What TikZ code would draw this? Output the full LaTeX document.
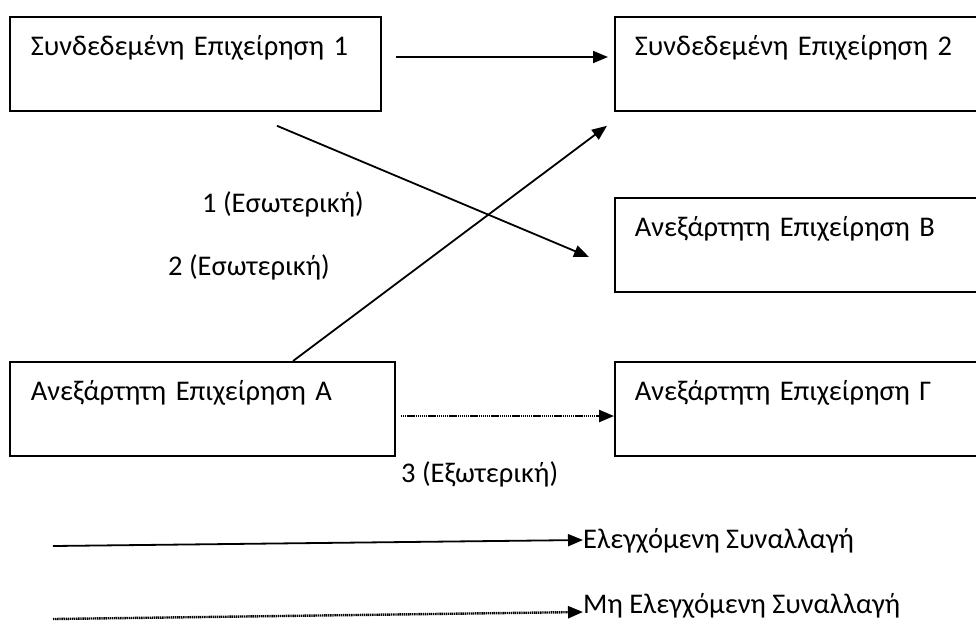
\documentclass[tikz,border=0pt]{standalone}
\usepackage{fontspec}
\setmainfont{Carlito}
\usetikzlibrary{calc,positioning,arrows.meta}

\begin{document}
\begin{tikzpicture}[x=1pt,y=-1pt,
    firm/.style={draw, line width=1.8pt, anchor=north west, align=left,
      inner xsep=20pt, inner ysep=14pt, text height=25pt, text depth=41pt},
    lbl/.style={inner sep=0pt, anchor=base west},
    ctrlarr/.style={line width=1.8pt, -{Triangle[length=15pt,width=12pt]}},
    unctrlarr/.style={line width=2.4pt, dash pattern=on 1.4pt off 0.7pt,
      -{Triangle[length=15pt,width=12pt]}},
    every node/.style={font=\fontsize{28.5}{32}\selectfont}]
    \pgfmathsetmacro{\lw}{329}
    \pgfmathsetmacro{\rw}{326}

    \useasboundingbox (0,0) rectangle (976,622);

    % the five firms
    \node[firm, text width=\lw pt, inner xsep=21pt] (syn1) at (9,16) {Συνδεδεμένη Επιχείρηση 1};
    \node[firm, text width=\rw pt] (syn2) at (614,16) {Συνδεδεμένη Επιχείρηση 2};
    \node[firm, text width=\rw pt] (anexB) at (614,197) {Ανεξάρτητη Επιχείρηση Β};
    \node[firm, text width=343pt, inner xsep=21pt] (anexA) at (9,361) {Ανεξάρτητη Επιχείρηση Α};
    \node[firm, text width=\rw pt] (anexG) at (614,361) {Ανεξάρτητη Επιχείρηση Γ};

    % transactions
    \draw[ctrlarr] ($(syn1.north east)+(14,41)$) -- ($(syn2.north west)+(-6,41)$);
    \draw[ctrlarr] ($(syn1.south west)+(268,14)$) -- ($(anexB.north west)+(-25,60)$);
    \draw[ctrlarr] ($(anexA.north west)+(284,0)$) -- ($(syn2.south west)+(-7,14)$);
    \draw[unctrlarr] ($(anexA.north east)+(5,55)$) -- ($(anexG.north west)+(0,55)$);

    \node[lbl] (int1) at (202,212) {1 (Εσωτερική)};
    \node[lbl] (int2) at (168,275) {2 (Εσωτερική)};
    \node[lbl] (ext3) at (401,482) {3 (Εξωτερική)};

    % legend
    \coordinate (leg1) at (53,546);
    \coordinate (leg2) at (53,619);
    \node[lbl] (ctrl) at (583,548) {Ελεγχόμενη Συναλλαγή};
    \node[lbl] (unctrl) at (583,613) {Μη Ελεγχόμενη Συναλλαγή};
    \draw[ctrlarr] (leg1) -- ([yshift=8pt]ctrl.base west);
    \draw[unctrlarr] (leg2) -- ([yshift=1pt]unctrl.base west);
\end{tikzpicture}
\end{document}
